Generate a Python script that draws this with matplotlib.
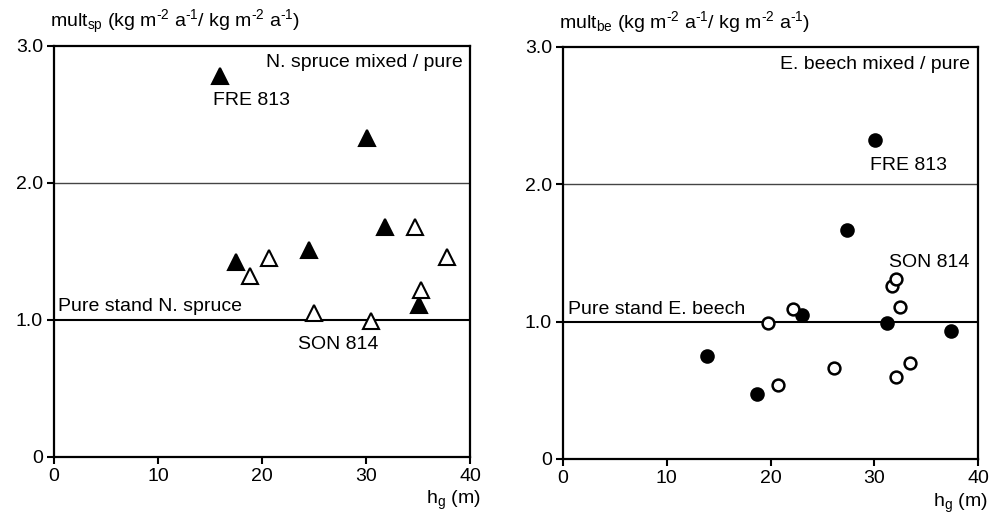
import matplotlib
matplotlib.use("Agg")
import matplotlib.pyplot as plt

plt.rcParams['font.family'] = ['Liberation Sans', 'DejaVu Sans']
plt.rcParams['mathtext.fontset'] = 'custom'
plt.rcParams['mathtext.rm'] = 'Liberation Sans'
plt.rcParams['mathtext.it'] = 'Liberation Sans:italic'
plt.rcParams['mathtext.bf'] = 'Liberation Sans:bold'

# Left panel: Norway spruce
sp_filled_x = [16.0, 30.1, 17.5, 24.5, 31.8, 35.1]
sp_filled_y = [2.78, 2.33, 1.42, 1.51, 1.68, 1.11]
sp_open_x = [18.8, 20.7, 25.0, 30.45, 34.7, 35.3, 37.8]
sp_open_y = [1.32, 1.45, 1.05, 0.99, 1.68, 1.22, 1.46]

# Right panel: European beech
be_filled_x = [30.1, 27.4, 13.9, 18.7, 23.0, 31.2, 37.4]
be_filled_y = [2.32, 1.67, 0.75, 0.47, 1.045, 0.99, 0.93]
be_open_x = [19.8, 22.2, 20.7, 26.1, 31.7, 32.1, 32.5, 32.1, 33.4]
be_open_y = [0.99, 1.09, 0.54, 0.66, 1.26, 1.31, 1.11, 0.60, 0.70]

x_ticks = [0, 10, 20, 30, 40]
y_ticks = [0, 1.0, 2.0, 3.0]
y_ticklabels = ["0", "1.0", "2.0", "3.0"]

fig = plt.figure(figsize=(10.03, 5.17), dpi=100)
ax1 = fig.add_axes([0.0538, 0.1161, 0.4148, 0.795])
ax2 = fig.add_axes([0.5613, 0.1122, 0.4138, 0.797])

FS = 14

def style(ax):
    ax.set_xlim(0, 40)
    ax.set_ylim(0, 3.0)
    ax.set_xticks(x_ticks)
    ax.set_yticks(y_ticks)
    ax.set_yticklabels(y_ticklabels)
    ax.tick_params(direction='out', length=5, width=1.5, labelsize=FS, colors='black', pad=3)
    for s in ax.spines.values():
        s.set_linewidth(1.6)
        s.set_color('black')
    ax.axhline(2.0, color='#444444', lw=1.0, zorder=1)
    ax.axhline(1.0, color='black', lw=1.5, zorder=1)

style(ax1)
style(ax2)

ax1.plot(sp_filled_x, sp_filled_y, linestyle='none', marker='^', ms=11,
         mfc='black', mec='black', mew=1.5, zorder=3)
ax1.plot(sp_open_x, sp_open_y, linestyle='none', marker='^', ms=11,
         mfc='white', mec='black', mew=1.5, zorder=3)

ax2.plot(be_filled_x, be_filled_y, linestyle='none', marker='o', ms=9,
         mfc='black', mec='black', mew=1.5, zorder=3)
ax2.plot(be_open_x, be_open_y, linestyle='none', marker='o', ms=8.5,
         mfc='white', mec='black', mew=1.8, zorder=3)

# texts left
ax1.text(39.3, 2.88, "N. spruce mixed / pure", ha='right', va='center', fontsize=FS)
ax1.text(15.3, 2.6, "FRE 813", ha='left', va='center', fontsize=FS)
ax1.text(0.4, 1.10, "Pure stand N. spruce", ha='left', va='center', fontsize=FS)
ax1.text(23.5, 0.82, "SON 814", ha='left', va='center', fontsize=FS)

# texts right
ax2.text(39.2, 2.87, "E. beech mixed / pure", ha='right', va='center', fontsize=FS)
ax2.text(29.6, 2.14, "FRE 813", ha='left', va='center', fontsize=FS)
ax2.text(31.4, 1.43, "SON 814", ha='left', va='center', fontsize=FS)
ax2.text(0.5, 1.09, "Pure stand E. beech", ha='left', va='center', fontsize=FS)

H = "\u2010"
unit = (" (kg m$^{\\mathrm{" + H + "2}}$ a$^{\\mathrm{" + H + "1}}$/ kg m$^{\\mathrm{"
        + H + "2}}$ a$^{\\mathrm{" + H + "1}}$)")
# y labels at top
fig.text(50/1003, 1-22/517, r"mult$_{\mathrm{sp}}$" + unit,
         ha='left', va='center', fontsize=FS)
fig.text(559/1003, 1-22/517, r"mult$_{\mathrm{be}}$" + unit,
         ha='left', va='center', fontsize=FS)

# x labels
fig.text(481/1003, 1-500/517, r"h$_{\mathrm{g}}$ (m)", ha='right', va='center', fontsize=FS)
fig.text(988/1003, 1-503/517, r"h$_{\mathrm{g}}$ (m)", ha='right', va='center', fontsize=FS)

fig.savefig("out.png", dpi=100)
